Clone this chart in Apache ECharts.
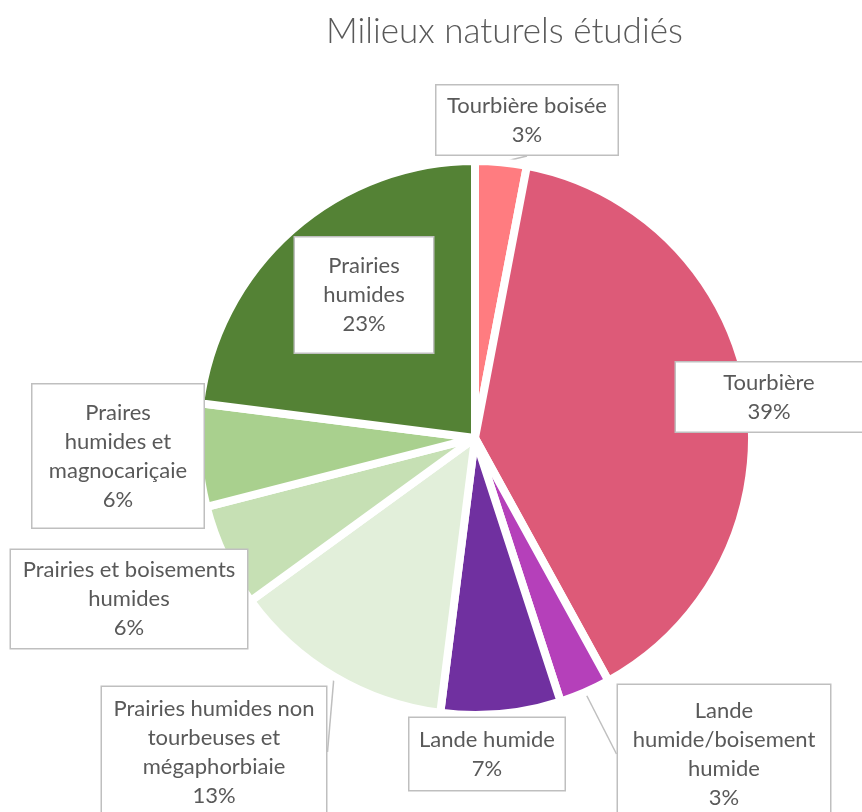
<!DOCTYPE html>
<html>
<head>
<meta charset="utf-8">
<script src="https://cdn.jsdelivr.net/npm/echarts@6/dist/echarts.min.js"></script>
<style>
	html, body { margin: 0; padding: 0; background: #fff; }
	#chart { width: 862px; height: 812px; }
</style>
</head>
<body>
<div id="chart"></div>
<script>
	// data
	var categories = ['Tourbière boisée', 'Tourbière', 'Lande humide/boisement humide', 'Lande humide',
		'Prairies humides non tourbeuses et mégaphorbiaie', 'Prairies et boisements humides',
		'Praires humides et magnocariçaie', 'Prairies humides'];
	var values = [3, 39, 3, 7, 13, 6, 6, 23];
	var colors = ['#FF7C80', '#DD5A78', '#B540BA', '#7030A0', '#E2EFDA', '#C6E0B4', '#A9D08E', '#548235'];
	// label text as wrapped in the callouts
	var labelText = [
		['Tourbière boisée'],
		['Tourbière'],
		['Lande', 'humide/boisement', 'humide'],
		['Lande humide'],
		['Prairies humides non', 'tourbeuses et', 'mégaphorbiaie'],
		['Prairies et boisements', 'humides'],
		['Praires', 'humides et', 'magnocariçaie'],
		['Prairies', 'humides']
	];

	// callout boxes: centre x, centre y, width, height
	var boxes = [
		[527, 120, 181, 69],
		[769, 397, 186, 69],
		[724, 754, 212, 138],
		[487, 754, 155, 72],
		[214, 752, 224, 130],
		[129, 599, 236, 98],
		[118, 456, 171, 143],
		[364, 295, 138, 115]
	];
	var showLine = [true, false, true, false, true, false, false, true];
	var lh = 29;

	var pieData = categories.map(function(name, i) {
		var nLines = labelText[i].length + 1;
		var padV = Math.max(0, (boxes[i][3] - nLines * lh) / 2);
		return {
			name: name,
			value: values[i],
			itemStyle: { color: colors[i] },
			label: {
				width: boxes[i][2] - 6,
				padding: [padV, 3, padV, 3]
			},
			labelLine: { show: showLine[i] }
		};
	});

	var option = {
		animation: false,
		title: {
			text: 'Milieux naturels étudiés',
			left: 321,
			top: 9,
			textStyle: {
				fontFamily: 'Lato',
				fontSize: 35,
				fontWeight: 300,
				color: '#595959'
			}
		},
		series: [{
			type: 'pie',
			center: [475, 438],
			radius: 277,
			startAngle: 90,
			avoidLabelOverlap: false,
			emphasis: { disabled: true },
			itemStyle: {
				borderColor: '#fff',
				borderWidth: 8
			},
			label: {
				show: true,
				position: 'outside',
				fontFamily: 'Lato',
				fontSize: 22,
				lineHeight: lh,
				color: '#595959',
				backgroundColor: '#fff',
				borderColor: '#BFBFBF',
				borderWidth: 1.5,
				align: 'center',
				formatter: function(p) {
					return labelText[p.dataIndex].join('\n') + '\n' + Math.round(p.percent) + '%';
				}
			},
			labelLine: {
				show: true,
				length: 4,
				length2: 0,
				lineStyle: { color: '#BFBFBF', width: 1.5 }
			},
			labelLayout: function(params) {
				var b = boxes[params.dataIndex];
				return { x: b[0], y: b[1], align: 'center', verticalAlign: 'middle' };
			},
			data: pieData
		}]
	};

	var chart = echarts.init(document.getElementById('chart'));
	chart.setOption(option);
</script>
</body>
</html>
